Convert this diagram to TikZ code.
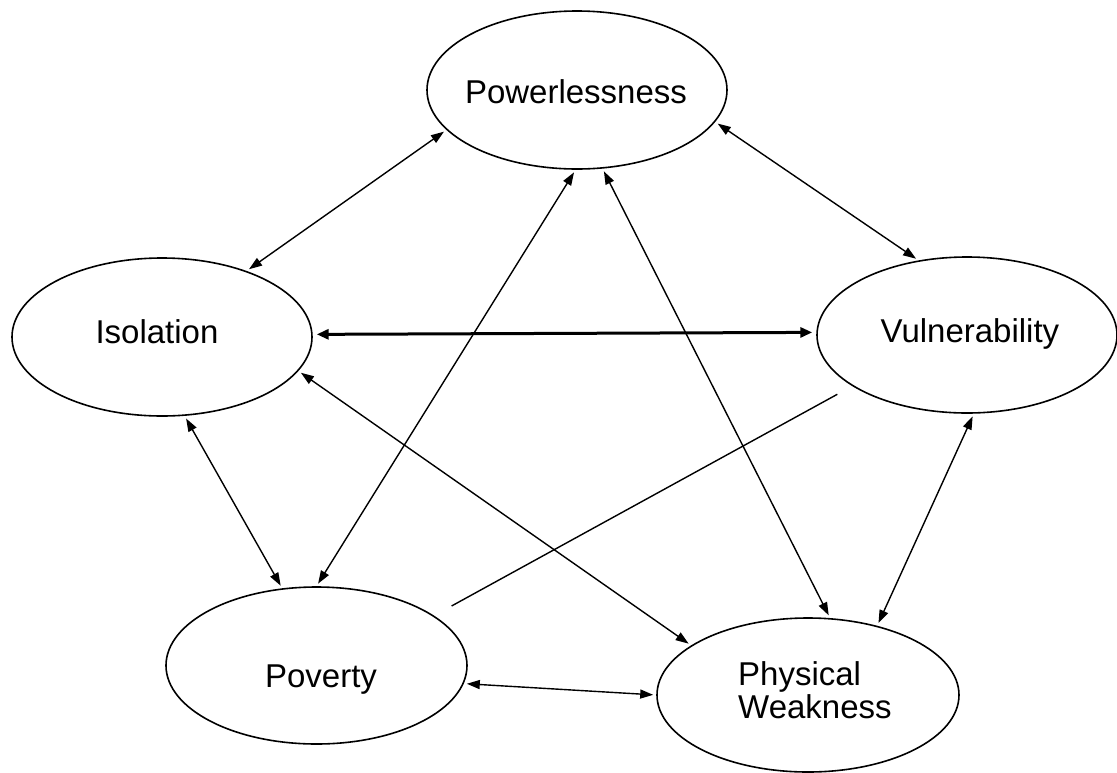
\documentclass[tikz,border=0pt]{standalone}
\usepackage{fontspec}
\setmainfont{Liberation Sans}
\usetikzlibrary{arrows.meta,shapes.geometric}
\begin{document}
\begin{tikzpicture}[x=1pt,y=-1pt,
  oval/.style={draw, ellipse, line width=1.6pt, inner sep=0pt},
  lbl/.style={font=\fontsize{33}{33}\selectfont, inner sep=0pt},
  link/.style={line width=1.4pt, {Triangle[length=13pt,width=9pt]}-{Triangle[length=13pt,width=9pt]}, shorten <=3pt, shorten >=3pt},
  boldlink/.style={line width=3pt, {Triangle[length=12pt,width=10pt]}-{Triangle[length=12pt,width=10pt]}, shorten <=4pt, shorten >=4pt},
  plainlink/.style={line width=1.4pt}]
\useasboundingbox (0,0) rectangle (1117,772);
% ellipses
\node[oval, minimum width=300pt, minimum height=158pt] (pw) at (577,90) {};
\node[oval, minimum width=300pt, minimum height=158pt] (iso) at (162,337) {};
\node[oval, minimum width=300pt, minimum height=156pt] (vul) at (967,335) {};
\node[oval, minimum width=301pt, minimum height=157pt] (pov) at (316.5,665.5) {};
\node[oval, minimum width=302pt, minimum height=154pt] (phy) at (808,695) {};
% labels
\node[lbl, anchor=base] (pwt) at (576,103) {Powerlessness};
\node[lbl, anchor=base] (isot) at (157,343) {Isolation};
\node[lbl, anchor=base] (vult) at (970,342) {Vulnerability};
\node[lbl, anchor=base] (povt) at (321,687) {Poverty};
\node[lbl, anchor=west, align=left] (phyt) at (738,690) {Physical\\Weakness};
% connectors
\draw[link] (pw.197) -- (iso.38);
\draw[link] (pw.347.6) -- (vul.123.7);
\draw[boldlink] (iso.1.5) -- (vul.179.3);
\draw[link] (iso.286.6) -- (pov.114.9);
\draw[link] (iso.346.2) -- (phy.157.4);
\draw[link] (pw.269) -- (pov.90);
\draw[link] (pw.288) -- (phy.74.6);
\draw[link] (vul.275.5) -- (phy.45.4);
\draw[link] (pov.353.6) -- (phy.180.7);
\draw[plainlink, shorten <=17pt, shorten >=20pt] (vul.204.7) -- (pov.23);
\end{tikzpicture}
\end{document}
